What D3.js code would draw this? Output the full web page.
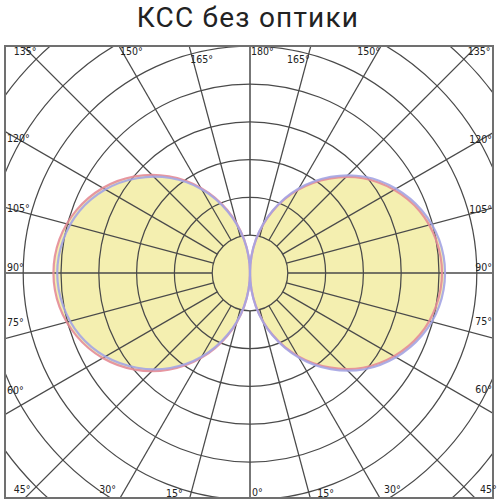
<!DOCTYPE html>
<html><head><meta charset="utf-8">
<script src="https://cdn.jsdelivr.net/npm/d3@7"></script>
<style>body{margin:0;background:#fff}</style>
</head><body><svg id="c" width="500" height="500"></svg>
<script>
const title = "КСС без оптики";
// gamma angles (deg from nadir) for the intensity curves
const gammas = [0,10,20,30,40,50,60,70,80,90,100,110,120,130,140,150,160,170];
// C0-C180 plane (red), left and right halves
const redLeft  = [0,45,89,130,167,199,225,244,256,260,256,244,225,199,167,130,89,45];
const redRight = [0,44,87,127,163,195,220,239,250,254,250,239,220,195,163,127,87,44];
// C90-C270 plane (blue)
const blueLeft  = [0,44,87,128,164,195,221,240,251,255,251,240,221,195,164,128,87,44];
const blueRight = [0,45,88,129,166,198,223,242,254,258,254,242,223,198,166,129,88,45];
const ringValues = [50,100,150,200,250,300,350,400];
const spokeAngles = [0,15,30,45,60,75,90,105,120,135,150,165,180];

const svg = d3.select("#c");
const frame = {x0:5, x1:493, y0:46, y1:498};
const cx = 250, cy = 273;
const r = d3.scaleLinear().domain([0,300]).range([0,226.8]);

svg.append("text").attr("x",248).attr("y",27).attr("text-anchor","middle")
  .attr("font-family","Roboto, 'Noto Sans', sans-serif").attr("font-size",28)
  .attr("letter-spacing",1.2).attr("fill","#222").text(title);

const g = svg.append("g").attr("transform",`translate(${cx},${cy})`);
svg.append("clipPath").attr("id","frc").append("rect")
  .attr("x",frame.x0-cx).attr("y",frame.y0-cy).attr("width",frame.x1-frame.x0).attr("height",frame.y1-frame.y0);
const gc = g.append("g").attr("clip-path","url(#frc)");

const toRad = d => d*Math.PI/180;
function lobe(vals, side){
  const pts = gammas.map((gm,i)=>({a: side>0 ? Math.PI - toRad(gm) : Math.PI + toRad(gm), v: vals[i]}));
  return d3.lineRadial().angle(d=>d.a).radius(d=>r(d.v)).curve(d3.curveCatmullRomClosed.alpha(0.5))(pts);
}
const curves = [
  {vals:redLeft, side:-1, color:"#e48c98"},
  {vals:redRight, side:1, color:"#e48c98"},
  {vals:blueLeft, side:-1, color:"#a4a4e4"},
  {vals:blueRight, side:1, color:"#a4a4e4"}
];
gc.selectAll("path.fill").data(curves).join("path").attr("class","fill")
  .attr("d",d=>lobe(d.vals,d.side)).attr("fill","#f4efb0").attr("stroke","none");

gc.selectAll("circle.ring").data(ringValues).join("circle").attr("class","ring")
  .attr("r",d=>r(d)).attr("fill","none").attr("stroke","#4a4a4a").attr("stroke-width",1.25);
const spokes = [];
spokeAngles.forEach(a=>{ spokes.push({g:a,side:1}); if(a>0 && a<180) spokes.push({g:a,side:-1}); });
gc.selectAll("line.spoke").data(spokes).join("line").attr("class","spoke")
  .attr("x1",d=>d.side*Math.sin(toRad(d.g))*r(ringValues[0]))
  .attr("y1",d=>Math.cos(toRad(d.g))*r(ringValues[0]))
  .attr("x2",d=>d.side*Math.sin(toRad(d.g))*600)
  .attr("y2",d=>Math.cos(toRad(d.g))*600)
  .attr("stroke","#4a4a4a").attr("stroke-width",d=>(d.g===0||d.g===180||d.g===90)?1.5:1.25);

gc.selectAll("path.crv").data(curves).join("path").attr("class","crv")
  .attr("d",d=>lobe(d.vals,d.side)).attr("fill","none").attr("stroke",d=>d.color)
  .attr("stroke-width",2.2).attr("stroke-opacity",0.9);

svg.append("rect").attr("x",frame.x0).attr("y",frame.y0).attr("width",frame.x1-frame.x0).attr("height",frame.y1-frame.y0)
  .attr("fill","none").attr("stroke","#707070").attr("stroke-width",2);

function labelPos(d){
  const s = Math.sin(toRad(d.g)), c = Math.cos(toRad(d.g));
  const tx = d.side>0 ? (frame.x1-cx)/Math.max(Math.abs(s),1e-9) : (cx-frame.x0)/Math.max(Math.abs(s),1e-9);
  const ty = c>0 ? (frame.y1-cy)/c : (c<0 ? (cy-frame.y0)/(-c) : Infinity);
  const t = Math.min(tx,ty);
  const px = cx + d.side*s*t, py = cy + c*t;
  let x, y, anchor;
  if (ty <= tx) {
    if (c < 0) {
      if (d.g===180){ x=px+1; anchor="start"; y=55; }
      else if (d.g===135){ x=px+2; anchor="middle"; y=55; }
      else { x = px + (d.side<0?1:-1); anchor = d.side<0?"start":"end"; y = d.g===165?63:55; }
    } else {
      if (d.g===0){ x=px+2; anchor="start"; y=496; }
      else if (d.g===45){ anchor = d.side<0?"middle":"start"; x = d.side<0? 22 : px+5; y=493; }
      else { x = px + d.side*(d.g===15?7:4); anchor = d.side<0?"end":"start"; y = d.g===15?497:493; }
    }
  } else {
    x = d.side<0 ? frame.x0+2 : frame.x1-1; anchor = d.side<0?"start":"end";
    const off = {60:-20,75:-13,90:-2,105:5,120:10};
    y = py + off[d.g];
  }
  return {x,y,anchor};
}
svg.append("g").selectAll("text").data(spokes).join("text")
  .each(function(d){ const p=labelPos(d); d3.select(this).attr("x",p.x).attr("y",p.y).attr("text-anchor",p.anchor); })
  .attr("font-family","'DejaVu Sans Condensed', 'DejaVu Sans', sans-serif").attr("font-size",10.5)
  .attr("fill","#222").text(d=>d.g+"°");
</script></body></html>
